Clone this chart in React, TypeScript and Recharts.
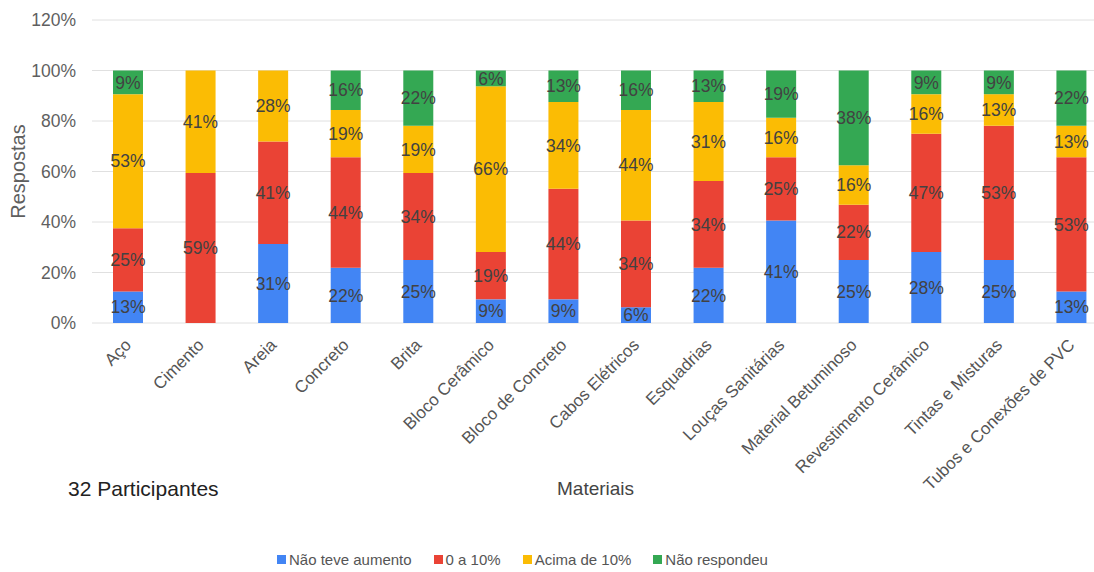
import React from 'react';
import { BarChart, Bar, XAxis, YAxis, CartesianGrid, LabelList } from 'recharts';

const PARTICIPANTS = 32;

const materials = [
  'Aço', 'Cimento', 'Areia', 'Concreto', 'Brita', 'Bloco Cerâmico', 'Bloco de Concreto',
  'Cabos Elétricos', 'Esquadrias', 'Louças Sanitárias', 'Material Betuminoso',
  'Revestimento Cerâmico', 'Tintas e Misturas', 'Tubos e Conexões de PVC',
];

// answers per material (out of 32 participants)
const naoTeveAumento = [4, 0, 10, 7, 8, 3, 3, 2, 7, 13, 8, 9, 8, 4];
const zeroA10 = [8, 19, 13, 14, 11, 6, 14, 11, 11, 8, 7, 15, 17, 17];
const acimaDe10 = [17, 13, 9, 6, 6, 21, 11, 14, 10, 5, 5, 5, 4, 4];
const naoRespondeu = [3, 0, 0, 5, 7, 2, 4, 5, 4, 6, 12, 3, 3, 7];

const yTicks = [0, 20, 40, 60, 80, 100, 120];

const SERIES = [
  { key: 'naoTeveAumento', name: 'Não teve aumento', color: '#4285F4', values: naoTeveAumento },
  { key: 'zeroA10', name: '0 a 10%', color: '#EA4335', values: zeroA10 },
  { key: 'acimaDe10', name: 'Acima de 10%', color: '#FBBC04', values: acimaDe10 },
  { key: 'naoRespondeu', name: 'Não respondeu', color: '#34A853', values: naoRespondeu },
];

const chartData = materials.map((name, i) => {
  const row: any = { name };
  SERIES.forEach(s => {
    row[s.key] = (s.values[i] / PARTICIPANTS) * 100;
  });
  return row;
});

const FONT = '"Liberation Sans", Arial, sans-serif';

const AngledTick = ({ x, y, payload }: any) => (
  <text
    x={x + 4}
    y={y + 15}
    transform={`rotate(-45, ${x + 4}, ${y + 15})`}
    textAnchor="end"
    fontSize={17}
    fill="#555"
    fontFamily={FONT}
  >
    {payload.value}
  </text>
);

const App = () => {
  return (
    <div style={{ position: 'absolute', left: 0, top: 0, width: 1094, height: 572, overflow: 'hidden', background: '#fff', fontFamily: FONT }}>
      <BarChart
        width={1108}
        height={572}
        data={chartData}
        margin={{ top: 20, right: 0, bottom: 0, left: 0 }}
        barSize={30}
      >
        <CartesianGrid stroke="#e0e0e0" vertical={false} />
        <XAxis
          dataKey="name"
          interval={0}
          height={249}
          tickLine={false}
          axisLine={false}
          tick={<AngledTick />}
        />
        <YAxis
          width={92}
          domain={[0, 120]}
          ticks={yTicks}
          tickFormatter={(v: number) => `${v}%`}
          tickLine={false}
          axisLine={false}
          tickSize={0}
          tickMargin={16}
          tick={{ fontSize: 17.5, fill: '#5f5f5f', fontFamily: FONT }}
          label={{
            content: ({ viewBox }: any) => (
              <text
                x={18}
                y={viewBox.y + viewBox.height / 2}
                transform={`rotate(-90, 18, ${viewBox.y + viewBox.height / 2})`}
                textAnchor="middle"
                dominantBaseline="central"
                fontSize={20}
                fill="#5f5f5f"
                fontFamily={FONT}
              >
                Respostas
              </text>
            ),
          }}
        />
        {SERIES.map(s => (
          <Bar key={s.key} dataKey={s.key} name={s.name} stackId="a" fill={s.color} isAnimationActive={false}>
            <LabelList
              dataKey={s.key}
              position="center"
              formatter={(v: any) => (v > 0 ? `${Math.round(v)}%` : '')}
              fill="#424242"
              fontSize={17.5}
              fontFamily={FONT}
            />
          </Bar>
        ))}
      </BarChart>

      <div style={{ position: 'absolute', left: 68, top: 477, fontSize: 21, color: '#222' }}>
        {PARTICIPANTS} Participantes
      </div>
      <div style={{ position: 'absolute', left: 557, top: 478, fontSize: 19, color: '#444' }}>
        Materiais
      </div>

      <div style={{ position: 'absolute', left: 277, top: 551, display: 'flex', gap: 22, fontSize: 15, color: '#555' }}>
        {SERIES.map(s => (
          <div key={s.key} style={{ display: 'flex', alignItems: 'center' }}>
            <span style={{ width: 9, height: 9, background: s.color, marginRight: 3, display: 'inline-block' }} />
            <span>{s.name}</span>
          </div>
        ))}
      </div>
    </div>
  );
};

export default App;
